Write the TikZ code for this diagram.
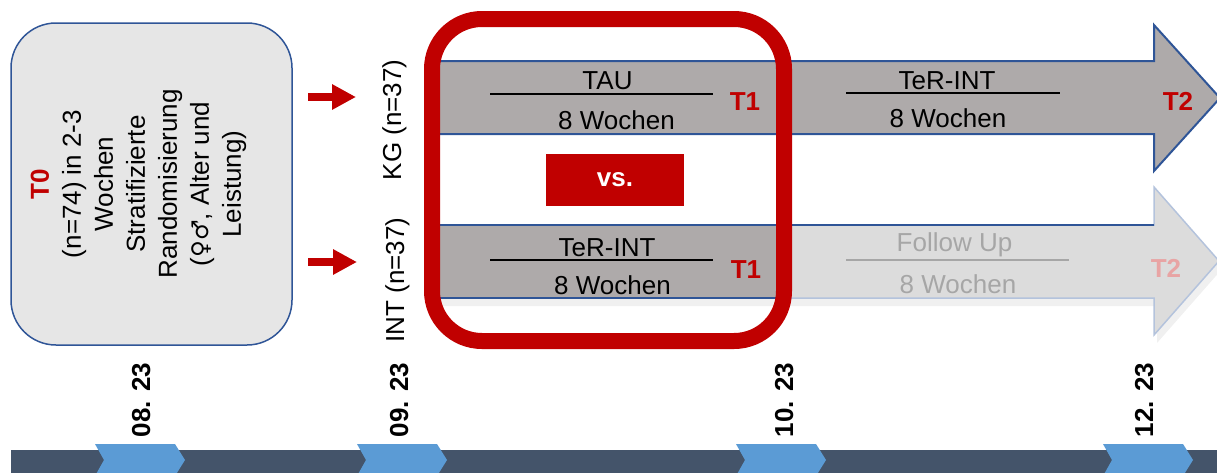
\documentclass[tikz,border=0pt]{standalone}
\usepackage{fontspec}
\setmainfont{Liberation Sans}
\newfontfamily\symbolfamily{DejaVu Sans}
\usetikzlibrary{arrows.meta}
\definecolor{bandgray}{HTML}{AEAAAA}
\definecolor{bandblue}{HTML}{2F5597}
\definecolor{lightfill}{HTML}{DCDCDC}
\definecolor{lightedge}{HTML}{B4C3DC}
\definecolor{shadowc}{HTML}{F0F0F0}
\definecolor{redc}{HTML}{C00000}
\definecolor{boxfill}{HTML}{E6E6E6}
\definecolor{boxedge}{HTML}{2F5597}
\definecolor{timedark}{HTML}{44546A}
\definecolor{timeblue}{HTML}{5B9BD5}
\definecolor{fadegray}{HTML}{A6A6A6}
\definecolor{fadered}{HTML}{E8A4A4}
\begin{document}
\begin{tikzpicture}[x=1pt,y=-1pt,
  txt/.style={font=\fontsize{26}{32}\selectfont, inner sep=0pt, text=black},
  boldtxt/.style={font=\fontsize{26}{32}\selectfont\bfseries, inner sep=0pt},
  rotlabel/.style={txt, rotate=90, anchor=base},
  datelabel/.style={boldtxt, rotate=90, anchor=base, text=black},
  tlabel/.style={boldtxt, anchor=base, text=redc},
  divline/.style={line width=2pt},
  redarrow/.style={draw=redc, line width=8pt, -{Triangle[length=24pt,width=24pt]}},
  bandline/.style={draw=bandblue, line width=2pt}
]
\useasboundingbox (0,0) rectangle (1217,472);

% timeline
\fill[timedark] (11,450) rectangle (1217,480);
\foreach \L in {95,357,736,1103}
  \fill[timeblue] (\L,444) -- ++(80,0) -- ++(10,16) -- ++(-10,16) -- ++(-80,0) -- ++(9,-16) -- cycle;

\node[datelabel] (d1) at (150,400) {08. 23};
\node[datelabel] (d2) at (408,400) {09. 23};
\node[datelabel] (d3) at (793,400) {10. 23};
\node[datelabel] (d4) at (1153,400) {12. 23};

% T0 box
\node[draw=boxedge, fill=boxfill, line width=1.5pt, rounded corners=45pt,
      minimum width=281pt, minimum height=322pt, inner sep=0pt] (t0box) at (151.5,184) {};
\node[txt, rotate=90, align=center] (t0txt) at (138.5,184)
  {\textcolor{redc}{\bfseries T0}\\(n=74) in 2-3\\Wochen\\Stratifizierte\\Randomisierung\\({\symbolfamily\fontsize{23}{32}\selectfont ♀♂}, Alter und\\Leistung)};

% red arrows
\coordinate (a1s) at (308,97);
\coordinate (a1e) at (356,97);
\coordinate (a2s) at (308,262);
\coordinate (a2e) at (357,262);
\draw[redarrow] (a1s) -- (a1e);
\draw[redarrow] (a2s) -- (a2e);

\node[rotlabel] (kg) at (401,120) {KG (n=37)};
\node[rotlabel] (int) at (404,280) {INT (n=37)};

% lower (INT) band with faded follow-up arrow
\fill[shadowc] (439,233) -- (1157,233) -- (1157,195) -- (1222,269) -- (1157,343) -- (1157,306) -- (439,306) -- cycle;
\filldraw[fill=lightfill, draw=lightedge, line width=1.5pt]
  (436,225) -- (1154,225) -- (1154,187) -- (1219,261) -- (1154,335) -- (1154,298) -- (436,298) -- cycle;
\fill[bandgray] (436,225) rectangle (784,298);
\draw[bandline] (436,225) -- (1154,225);
\draw[bandline] (436,298) -- (784,298);

% upper (KG) band arrow
\filldraw[fill=bandgray, bandline]
  (436,61) -- (1154,61) -- (1154,25) -- (1220,98) -- (1154,171) -- (1154,134) -- (436,134) -- cycle;

% texts upper band
\node[txt, anchor=base] (tau) at (607.5,89) {TAU};
\coordinate (l1a) at (490,94); \coordinate (l1b) at (713,94);
\draw[divline] (l1a) -- (l1b);
\node[txt, anchor=base] (w1) at (616.5,129) {8 Wochen};
\node[tlabel] (t1a) at (745,110) {T1};

\node[txt, anchor=base] (ter1) at (947,89) {TeR-INT};
\coordinate (l2a) at (846,93); \coordinate (l2b) at (1060,93);
\draw[divline] (l2a) -- (l2b);
\node[txt, anchor=base] (w2) at (948,127) {8 Wochen};
\node[tlabel] (t2a) at (1178,110) {T2};

% texts lower band
\node[txt, anchor=base] (ter2) at (607,256) {TeR-INT};
\coordinate (l3a) at (490,260); \coordinate (l3b) at (713,260);
\draw[divline] (l3a) -- (l3b);
\node[txt, anchor=base] (w3) at (612.5,294) {8 Wochen};
\node[tlabel] (t1b) at (746,278) {T1};

\node[txt, anchor=base, text=fadegray] (fu) at (954.5,251) {Follow Up};
\coordinate (l4a) at (846,260); \coordinate (l4b) at (1069,260);
\draw[divline, fadegray] (l4a) -- (l4b);
\node[txt, anchor=base, text=fadegray] (w4) at (958,293) {8 Wochen};
\node[tlabel, text=fadered] (t2b) at (1166,277) {T2};

% focus frame
\node[draw=redc, line width=16pt, rounded corners=50pt, minimum width=352pt,
      minimum height=322pt, inner sep=0pt] (focus) at (608,180) {};

% vs box
\node[fill=redc, minimum width=138pt, minimum height=52pt, inner sep=0pt, text=white,
      font=\fontsize{26}{32}\selectfont\bfseries, text height=13pt, text depth=0pt] (vs) at (615,180) {vs.};
\end{tikzpicture}
\end{document}
